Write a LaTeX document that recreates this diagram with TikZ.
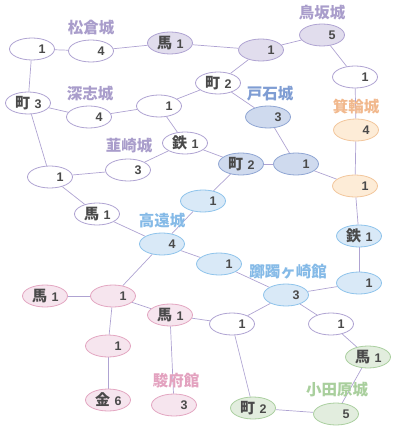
\documentclass[tikz,border=0pt]{standalone}
\usepackage{fontspec}
\newfontfamily\cjk{Noto Sans CJK JP}
\newfontfamily\numf{Liberation Sans}
\usetikzlibrary{shapes.geometric,backgrounds}
\definecolor{lav}{HTML}{AFA3D2}
\definecolor{lavF}{HTML}{E1DDED}
\definecolor{lavT}{HTML}{A99DCB}
\definecolor{dbD}{HTML}{8FA5D3}
\definecolor{dbF}{HTML}{CFDAEE}
\definecolor{dbT}{HTML}{7F9DD3}
\definecolor{lbD}{HTML}{8EC3EB}
\definecolor{lbF}{HTML}{D9E9F7}
\definecolor{lbT}{HTML}{85BAE7}
\definecolor{orD}{HTML}{F2C69C}
\definecolor{orF}{HTML}{FDECD7}
\definecolor{orT}{HTML}{F1B88D}
\definecolor{pkD}{HTML}{E3A6C1}
\definecolor{pkF}{HTML}{F6E5EE}
\definecolor{pkT}{HTML}{E3A2BF}
\definecolor{grD}{HTML}{AACF9F}
\definecolor{grF}{HTML}{E2EDDE}
\definecolor{grT}{HTML}{A9CF9D}
\definecolor{txt}{HTML}{4A4A4A}
\newcommand\nd[2]{\makebox[16pt]{\cjk\bfseries\fontsize{15}{15}\selectfont #1}\hspace{4pt}{\numf\bfseries\fontsize{12.5}{12.5}\selectfont #2}}
\tikzset{
  st/.style={ellipse, line width=0.8pt, minimum width=45pt, minimum height=22pt, inner sep=0pt, text=txt},
  wn/.style={st, draw=lav, fill=white},
  lv/.style={st, draw=lav, fill=lavF},
  db/.style={st, draw=dbD, fill=dbF},
  lb/.style={st, draw=lbD, fill=lbF},
  orn/.style={st, draw=orD, fill=orF},
  pk/.style={st, draw=pkD, fill=pkF},
  gr/.style={st, draw=grD, fill=grF},
  castle/.style={font=\cjk\bfseries\fontsize{15.5}{16}\selectfont, inner sep=0pt},
  edge/.style={draw=lav, line width=0.7pt}
}
\begin{document}
\begin{tikzpicture}[x=1pt,y=-1pt]
\useasboundingbox (0,0) rectangle (400,430);
% nodes
\node[wn] (n1) at (32,49) {\nd{}{1}};
\node[wn] (n2) at (91,51) {\nd{}{4}};
\node[lv] (n3) at (170,43) {\nd{馬}{1}};
\node[lv] (n4) at (261,50) {\nd{}{1}};
\node[lv] (n5) at (322,35) {\nd{}{5}};
\node[wn] (n6) at (355,77) {\nd{}{1}};
\node[wn] (n7) at (218,83) {\nd{町}{2}};
\node[wn] (n8) at (28,103) {\nd{町}{3}};
\node[wn] (n9) at (89,117) {\nd{}{4}};
\node[wn] (n10) at (159,106) {\nd{}{1}};
\node[db] (n11) at (268,117) {\nd{}{3}};
\node[orn] (n12) at (356,130) {\nd{}{4}};
\node[wn] (n13) at (185,143) {\nd{鉄}{1}};
\node[wn] (n14) at (50,177) {\nd{}{1}};
\node[wn] (n15) at (128,170) {\nd{}{3}};
\node[db] (n16) at (241,164) {\nd{町}{2}};
\node[db] (n17) at (296,164) {\nd{}{1}};
\node[orn] (n18) at (355,186) {\nd{}{1}};
\node[lb] (n19) at (203,201) {\nd{}{1}};
\node[wn] (n20) at (97,214) {\nd{馬}{1}};
\node[lb] (n21) at (162,244) {\nd{}{4}};
\node[lb] (n22) at (359,236) {\nd{鉄}{1}};
\node[lb] (n23) at (219,264) {\nd{}{1}};
\node[lb] (n24) at (359,283) {\nd{}{1}};
\node[lb] (n25) at (286,295) {\nd{}{3}};
\node[pk] (n26) at (45,296) {\nd{馬}{1}};
\node[pk] (n27) at (113,296) {\nd{}{1}};
\node[pk] (n28) at (170,315) {\nd{馬}{1}};
\node[pk] (n29) at (108,346) {\nd{}{1}};
\node[wn] (n30) at (232,324) {\nd{}{1}};
\node[wn] (n31) at (331,324) {\nd{}{1}};
\node[pk] (n32) at (108,400) {\nd{金}{6}};
\node[pk] (n33) at (174,405) {\nd{}{3}};
\node[gr] (n34) at (368,357) {\nd{馬}{1}};
\node[gr] (n35) at (253,408) {\nd{町}{2}};
\node[gr] (n36) at (336,414) {\nd{}{5}};
% castle names
\node[castle, text=lavT] (c1) at (91,28) {松倉城};
\node[castle, text=lavT] (c2) at (90,94) {深志城};
\node[castle, text=lavT] (c3) at (129,146) {韮崎城};
\node[castle, text=lavT] (c4) at (322,13) {鳥坂城};
\node[castle, text=dbT] (c5) at (270,94) {戸石城};
\node[castle, text=orT] (c6) at (356,107) {箕輪城};
\node[castle, text=lbT] (c7) at (162,221) {高遠城};
\node[castle, text=lbT] (c8) at (288,272) {躑躅ヶ崎館};
\node[castle, text=pkT] (c9) at (176,381) {駿府館};
\node[castle, text=grT] (c10) at (337,390) {小田原城};
% edges
\begin{scope}[on background layer]
\draw[edge] (n1) -- (n2);
\draw[edge] (n2) -- (n3);
\draw[edge] (n3) -- (n4);
\draw[edge] (n4) -- (n5);
\draw[edge] (n5) -- (n6);
\draw[edge] (n4) -- (n7);
\draw[edge] (n6) -- (n12);
\draw[edge] (n7) -- (n11);
\draw[edge] (n7) -- (n10);
\draw[edge] (n1) -- (n8);
\draw[edge] (n8) -- (n9);
\draw[edge] (n9) -- (n10);
\draw[edge] (n10) -- (n13);
\draw[edge] (n8) -- (n14);
\draw[edge] (n14) -- (n15);
\draw[edge] (n15) -- (n13);
\draw[edge] (n13) -- (n16);
\draw[edge] (n11) -- (n17);
\draw[edge] (n16) -- (n17);
\draw[edge] (n17) -- (n18);
\draw[edge] (n12) -- (n18);
\draw[edge] (n18) -- (n22);
\draw[edge] (n22) -- (n24);
\draw[edge] (n16) -- (n19);
\draw[edge] (n14) -- (n20);
\draw[edge] (n20) -- (n21);
\draw[edge] (n21) -- (n19);
\draw[edge] (n21) -- (n23);
\draw[edge] (n23) -- (n25);
\draw[edge] (n25) -- (n24);
\draw[edge] (n21) -- (n27);
\draw[edge] (n27) -- (n26);
\draw[edge] (n27) -- (n29);
\draw[edge] (n29) -- (n32);
\draw[edge] (n27) -- (n28);
\draw[edge] (n28) -- (n30);
\draw[edge] (n28) -- (n33);
\draw[edge] (n25) -- (n30);
\draw[edge] (n25) -- (n31);
\draw[edge] (n31) -- (n34);
\draw[edge] (n30) -- (n35);
\draw[edge] (n34) -- (n36);
\draw[edge] (n35) -- (n36);
\end{scope}
\end{tikzpicture}
\end{document}
